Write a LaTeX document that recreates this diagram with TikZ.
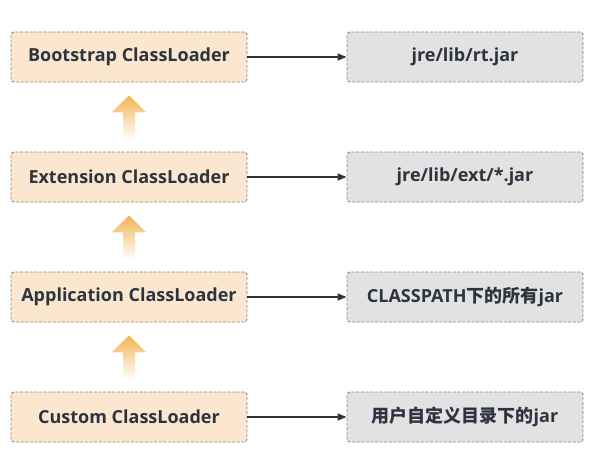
\documentclass[tikz,border=0pt]{standalone}
\usepackage{fontspec}
\setmainfont{Open Sans}
\newfontfamily\cjk{Noto Sans CJK SC}
\usetikzlibrary{arrows.meta,calc}
\definecolor{peach}{HTML}{FBE6CF}
\definecolor{grayfill}{HTML}{E2E2E2}
\definecolor{bordergray}{HTML}{888888}
\definecolor{txt}{HTML}{2E343F}
\definecolor{arroworange}{HTML}{F2B452}
\tikzset{
  loader/.style={draw=bordergray, dash pattern=on 3pt off 1.6pt, line width=0.9pt,
    fill=peach, rounded corners=3pt, minimum width=236pt, minimum height=50pt,
    inner sep=0pt, text=txt, font=\fontsize{18}{21}\selectfont\bfseries},
  pathbox/.style={loader, fill=grayfill},
  link/.style={draw=txt, line width=1.3pt, -{Triangle[length=9pt,width=7pt]}},
  uparrow/.style={top color=arroworange, bottom color=white, draw=none}
}
\begin{document}
\begin{tikzpicture}[x=1pt,y=-1pt]
\useasboundingbox (0,0) rectangle (595,460);
\node[loader] (bl) at (129,57) {Bootstrap ClassLoader};
\node[loader] (el) at (129,177) {Extension ClassLoader};
\node[loader] (al) at (129,297) {Application ClassLoader};
\node[loader] (cl) at (129,417) {Custom ClassLoader};
\node[pathbox] (bp) at (465,57) {jre/lib/rt.jar};
\node[pathbox] (ep) at (465,177) {jre/lib/ext/*.jar};
\node[pathbox] (ap) at (465,297) {CLASSPATH{\cjk 下的所有}jar};
\node[pathbox] (cp) at (465,417) {{\cjk 用户自定义目录下的}jar};
\foreach \a/\b in {bl/bp, el/ep, al/ap, cl/cp}
  \draw[link] (\a.east) -- (\b.west);
\foreach \top/\bot in {bl/el, el/al, al/cl}{
  \path[uparrow] ($(\top.south)+(0,13)$) -- ++(17.5,17) -- ++(-11.5,0) -- ++(0,27)
     -- ++(-12,0) -- ++(0,-27) -- ++(-11.5,0) -- cycle;
}
\end{tikzpicture}
\end{document}
